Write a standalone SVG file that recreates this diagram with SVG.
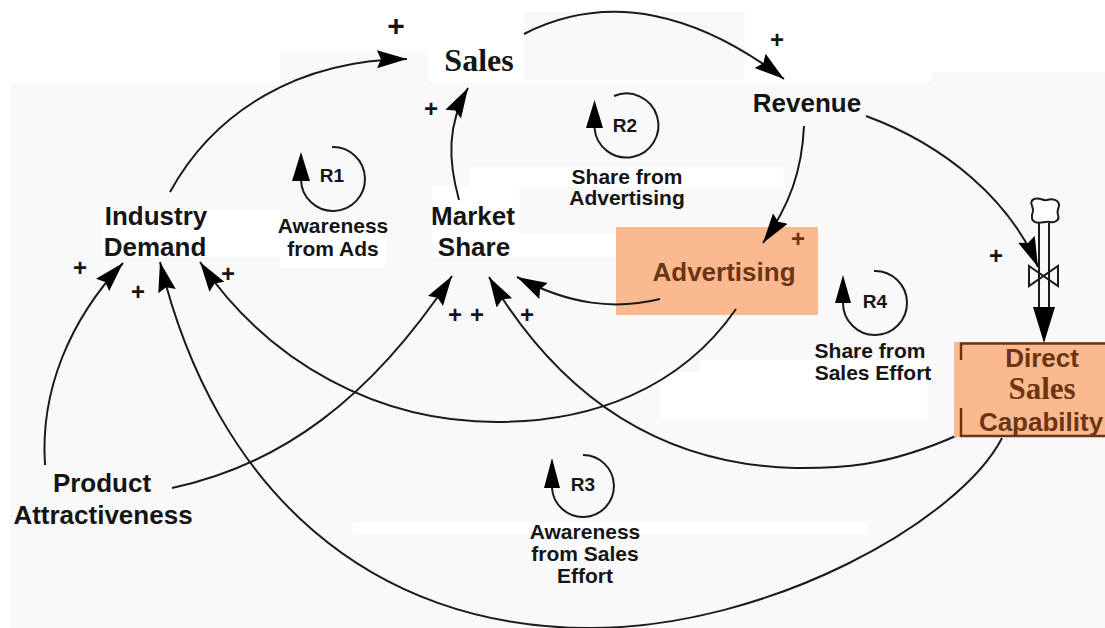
<svg xmlns="http://www.w3.org/2000/svg" width="1105" height="628" viewBox="0 0 1105 628">
<style>
text{font-family:"Liberation Sans",Arial,sans-serif;font-weight:bold;fill:#151515;text-anchor:middle}
.n{font-size:26px}
.l{font-size:21px}
.r{font-size:19px}
.p{font-size:24px;font-weight:bold}
.s{font-family:"Liberation Serif","Times New Roman",serif;font-size:31px}
.b{fill:#6b3512}
.c{fill:none;stroke:#1a1a1a;stroke-width:2}
.a{marker-end:url(#h)}
.o{fill:#fbb98f}
.w{fill:#fff}
.g{fill:#f9f9f9}
</style>
<defs>
<marker id="h" markerUnits="userSpaceOnUse" markerWidth="32" markerHeight="20" refX="30" refY="10" orient="auto"><path d="M0 1L30 10L0 19L4 10Z" fill="#000"/></marker>
</defs>
<rect width="1105" height="628" class="w"/>
<g id="backdrop">
<rect x="10" y="82" width="1095" height="546" class="g"/>
<rect x="932" y="72" width="173" height="12" class="g"/>
<rect x="280" y="50" width="148" height="33" class="g"/>
<rect x="524" y="12" width="221" height="68" class="g"/>
<rect x="102" y="210" width="178" height="47" class="w"/>
<rect x="280" y="220" width="106" height="48" class="w"/>
<rect x="431" y="187" width="88" height="46" class="w"/>
<rect x="431" y="233" width="185" height="24" class="w"/>
<rect x="470" y="167" width="313" height="20" class="w"/>
<rect x="428" y="50" width="96" height="32" class="w"/>
<rect x="353" y="523" width="515" height="12" class="w"/>
<path d="M660 372H700V360H927V419H660Z" class="w"/>
</g>
<rect id="advertising-fill" x="616" y="227" width="202" height="88" class="o"/>
<g id="connectors">
<path class="c a" d="M170 192C215 110 300 60 407 59"/>
<path class="c a" d="M459 200C448 160 447 125 468 88"/>
<path class="c a" d="M524 34C610 -10 700 15 784 79"/>
<path class="c a" d="M804 126C802 170 790 205 763 243"/>
<path class="c a" d="M866 116C945 145 1010 200 1038 267"/>
<path class="c a" d="M45 465C40 390 70 320 123 263"/>
<path class="c a" d="M172 488C280 465 370 400 452 276"/>
<path class="c a" d="M660 299C615 310 570 305 517 277"/>
<path class="c a" d="M736 309C680 390 590 422 497 422C380 422 270 365 200 262"/>
<path class="c a" d="M958 435C880 470 830 468 795 468C670 465 565 405 489 277"/>
<path class="c a" d="M1002 438C960 520 770 628 590 628C370 628 215 490 160 262"/>
</g>
<g id="loops">
<path class="c" d="M332 147A32 32 0 1 1 301 180"/><path d="M301 152L310 181H292Z"/>
<path class="c" d="M614 96A32 32 0 1 1 594.500 128"/><path d="M594.500 100L603 128H586Z"/>
<path class="c" d="M583 455A31 31 0 1 1 552 488"/><path d="M552 458L560 488H544Z"/>
<path class="c" d="M874 271A32 32 0 1 1 843 303"/><path d="M843 275L851 303H835Z"/>
<text class="r" x="332" y="182">R1</text>
<text class="r" x="625" y="132">R2</text>
<text class="r" x="583" y="491">R3</text>
<text class="r" x="875" y="308">R4</text>
</g>
<g id="sales"><text class="s" style="font-size:32px" x="479" y="71">Sales</text></g>
<g id="revenue"><text class="n" x="807" y="112">Revenue</text></g>
<g id="industry-demand"><text class="n" x="156" y="225">Industry</text><text class="n" x="155" y="256">Demand</text></g>
<g id="market-share"><text class="n" x="473" y="225">Market</text><text class="n" x="474" y="256">Share</text></g>
<g id="advertising"><text class="n b" x="724" y="281">Advertising</text></g>
<g id="product-attractiveness"><text class="n" x="102" y="492">Product</text><text class="n" x="103" y="524">Attractiveness</text></g>
<g id="direct-sales-capability">
<rect x="954" y="342" width="151" height="95" class="o"/>
<path d="M961 360V343.500H1105M961 408V436H1105" fill="none" stroke="#6b3512" stroke-width="2.500"/>
<text class="n b" x="1042" y="367">Direct</text>
<text class="b s" x="1042" y="399">Sales</text>
<text class="n b" x="1041" y="431">Capability</text>
</g>
<g id="flow-valve" fill="none" stroke="#1a1a1a" stroke-width="2">
<path d="M1034 199C1040 197 1042 201 1047 200C1052 198 1059 200 1059 205C1059 209 1056 211 1058 215C1060 220 1055 223 1050 222C1045 221 1040 224 1035 222C1030 220 1032 214 1033 211C1034 207 1028 202 1034 199Z" fill="#fff"/>
<path d="M1039 223V308M1049 223V308"/>
<path d="M1029 266L1058 286V266L1029 286Z"/>
<path d="M1033 307H1055L1044 343Z" fill="#000" stroke="none"/>
</g>
<g id="labels">
<text class="l" x="333" y="233">Awareness</text><text class="l" x="333" y="256">from Ads</text>
<text class="l" x="627" y="184">Share from</text><text class="l" x="627" y="205">Advertising</text>
<text class="l" x="870" y="358">Share from</text><text class="l" x="873" y="380">Sales Effort</text>
<text class="l" x="585" y="539">Awareness</text><text class="l" x="585" y="561">from Sales</text><text class="l" x="585" y="583">Effort</text>
</g>
<g id="signs">
<text style="font-size:30px" x="396" y="36">+</text>
<text class="p" x="777" y="48">+</text>
<text class="p" x="431" y="117">+</text>
<text class="p" x="80" y="276">+</text>
<text class="p" x="138" y="300">+</text>
<text class="p" x="228" y="282">+</text>
<text class="p" x="455" y="323">+</text>
<text class="p" x="477" y="323">+</text>
<text class="p" x="527" y="323">+</text>
<text class="p b" x="798" y="247">+</text>
<text class="p" x="996" y="264">+</text>
</g>
</svg>
